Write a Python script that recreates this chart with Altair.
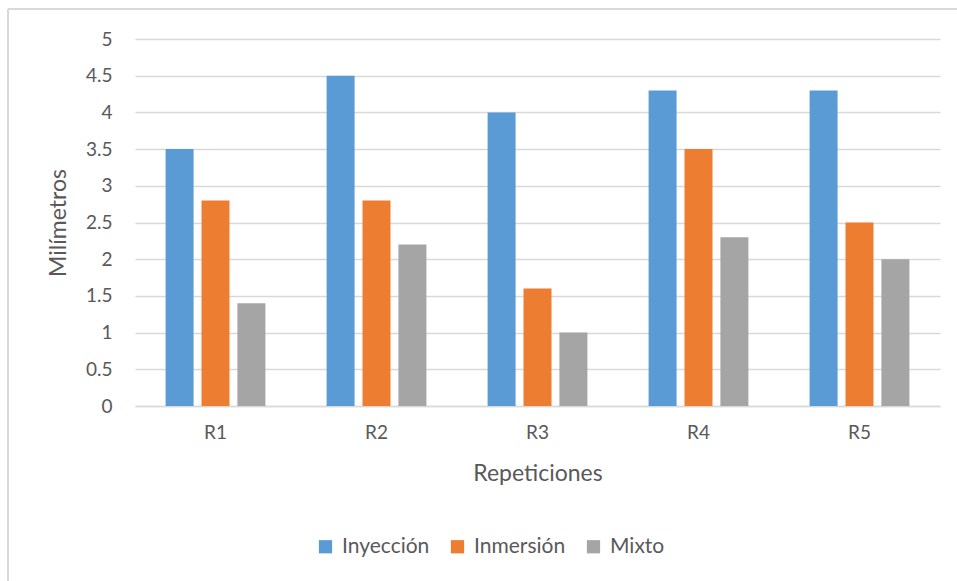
import altair as alt
import pandas as pd

# Repetition labels and the three treatment series (mm)
repeticiones = ["R1", "R2", "R3", "R4", "R5"]
metodos = ["Inyección", "Inmersión", "Mixto"]
inyeccion = [3.5, 4.5, 4.0, 4.3, 4.3]
inmersion = [2.8, 2.8, 1.6, 3.5, 2.5]
mixto = [1.4, 2.2, 1.0, 2.3, 2.0]
colores = ["#5B9BD5", "#ED7D31", "#A5A5A5"]

rows = []
for serie, valores in zip(metodos, [inyeccion, inmersion, mixto]):
    for rep, v in zip(repeticiones, valores):
        rows.append({"Repeticion": rep, "Metodo": serie, "Valor": v})
df = pd.DataFrame(rows)

FONT = "Lato"
TXT = "#595959"
GRID = "#D9D9D9"

bars = alt.Chart(df).mark_bar().encode(
    x=alt.X(
        "Repeticion:N",
        sort=repeticiones,
        scale=alt.Scale(paddingInner=0.38, paddingOuter=0.19),
        axis=alt.Axis(
            title="Repeticiones",
            labelAngle=0,
            labelPadding=17,
            titlePadding=20,
            ticks=False,
            domainColor=GRID,
            domainWidth=1.3,
        ),
    ),
    xOffset=alt.XOffset(
        "Metodo:N",
        sort=metodos,
        scale=alt.Scale(paddingInner=0.22, paddingOuter=0),
    ),
    y=alt.Y(
        "Valor:Q",
        scale=alt.Scale(domain=[0, 5], nice=False),
        axis=alt.Axis(
            title="Milímetros",
            values=[0, 0.5, 1, 1.5, 2, 2.5, 3, 3.5, 4, 4.5, 5],
            format="~g",
            domain=False,
            ticks=False,
            labelPadding=23,
            titlePadding=15,
            gridColor=GRID,
            gridWidth=1.3,
        ),
    ),
    color=alt.Color(
        "Metodo:N",
        sort=metodos,
        scale=alt.Scale(domain=metodos, range=colores),
        legend=alt.Legend(
            title=None,
            orient="none",
            direction="horizontal",
            legendX=180,
            legendY=497,
            symbolType="square",
            symbolSize=175,
            symbolStrokeWidth=0,
            labelFontSize=21,
            labelOffset=6,
            columnPadding=17,
            labelColor=TXT,
            labelFont=FONT,
        ),
    ),
)

# Thin outer frame of the chart box
frame_top = alt.Chart(df).mark_rule(color=GRID, strokeWidth=1.5).encode(
    x=alt.value(-127), x2=alt.value(840), y=alt.value(-30)
)
frame_left = alt.Chart(df).mark_rule(color=GRID, strokeWidth=1.5).encode(
    x=alt.value(-127), y=alt.value(-30), y2=alt.value(560)
)

chart = (
    alt.layer(bars, frame_top, frame_left)
    .properties(
        width=805,
        height=367,
        autosize=alt.AutoSizeParams(type="none"),
        padding={"left": 135, "top": 39, "right": 17, "bottom": 175},
        background="white",
    )
    .configure_view(stroke=None)
    .configure_axis(
        labelFont=FONT,
        titleFont=FONT,
        labelColor=TXT,
        titleColor=TXT,
        labelFontSize=19,
        titleFontSize=23,
        titleFontWeight="normal",
    )
)

chart.save("out.html", embed_options={"renderer": "svg", "actions": False})
